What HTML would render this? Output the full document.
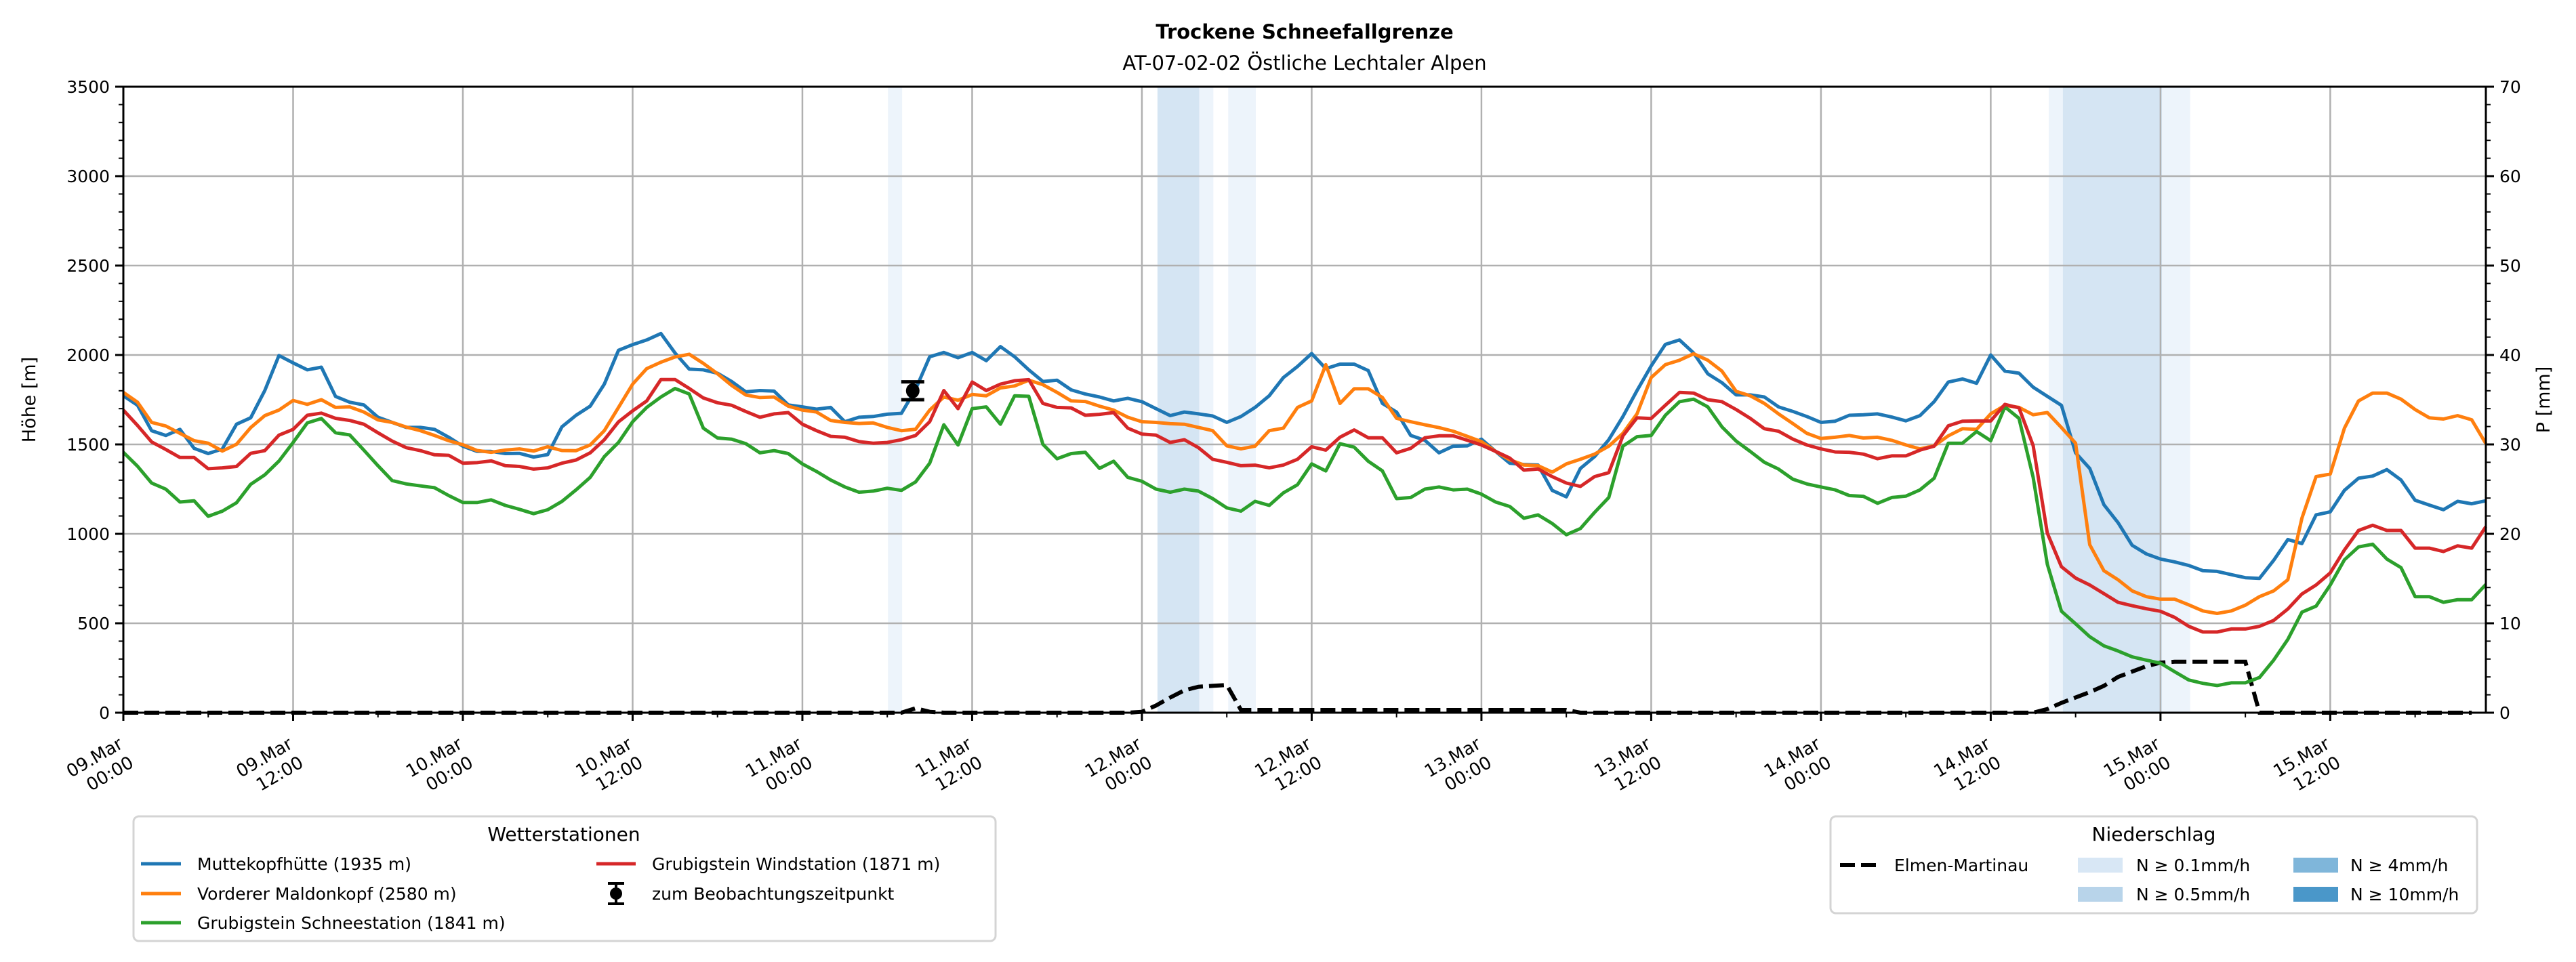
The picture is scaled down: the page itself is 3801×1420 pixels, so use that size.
<!DOCTYPE html>
<html><head><meta charset="utf-8"><style>
html,body{margin:0;padding:0;background:#fff}
svg{display:block;font-family:"DejaVu Sans","Liberation Sans",sans-serif}
</style></head><body>
<svg id="chart" width="3801" height="1420" viewBox="0 0 3801 1420" xmlns="http://www.w3.org/2000/svg">
<rect x="0" y="0" width="3801" height="1420" fill="#fff"/>
<text x="1925" y="57" text-anchor="middle" font-size="29" font-weight="bold">Trockene Schneefallgrenze</text>
<text x="1925" y="103" text-anchor="middle" font-size="29">AT-07-02-02 Östliche Lechtaler Alpen</text>
<g id="bands"></g>
<g id="grid"></g>
<g id="series"></g>
<g id="axes"></g>
<text transform="translate(52,590) rotate(-90)" text-anchor="middle" font-size="27">Höhe [m]</text>
<text transform="translate(3762,590) rotate(-90)" text-anchor="middle" font-size="27">P [mm]</text>

<g>
<rect x="197" y="1205" width="1272" height="184" rx="8" fill="#fff" stroke="#d4d4d4" stroke-width="3"/>
<text x="832" y="1241" text-anchor="middle" font-size="28">Wetterstationen</text>
<g><line x1="208" y1="1275" x2="267" y2="1275" stroke="#1f77b4" stroke-width="5"/><text x="291" y="1284" font-size="25">Muttekopfhütte (1935 m)</text></g>
<g><line x1="208" y1="1319" x2="267" y2="1319" stroke="#ff7f0e" stroke-width="5"/><text x="291" y="1328" font-size="25">Vorderer Maldonkopf (2580 m)</text></g>
<g><line x1="208" y1="1362" x2="267" y2="1362" stroke="#2ca02c" stroke-width="5"/><text x="291" y="1371" font-size="25">Grubigstein Schneestation (1841 m)</text></g>
<g><line x1="880" y1="1275" x2="938" y2="1275" stroke="#d62728" stroke-width="5"/><text x="962" y="1284" font-size="25">Grubigstein Windstation (1871 m)</text></g>
<g><line x1="909" y1="1304" x2="909" y2="1334" stroke="#000" stroke-width="4"/><line x1="897" y1="1304" x2="921" y2="1304" stroke="#000" stroke-width="4"/><line x1="897" y1="1334" x2="921" y2="1334" stroke="#000" stroke-width="4"/><circle cx="909" cy="1319" r="9" fill="#000"/><text x="962" y="1328" font-size="25">zum Beobachtungszeitpunkt</text></g>
</g>

<g>
<rect x="2701" y="1205" width="954" height="143" rx="8" fill="#fff" stroke="#d4d4d4" stroke-width="3"/>
<text x="3178" y="1241" text-anchor="middle" font-size="28">Niederschlag</text>
<g><line x1="2715" y1="1277" x2="2772" y2="1277" stroke="#000" stroke-width="6" stroke-dasharray="22 9"/><text x="2795" y="1286" font-size="25">Elmen-Martinau</text></g>
<g><rect x="3066" y="1266" width="66" height="22" fill="#d8e7f5"/><text x="3152" y="1286" font-size="25">N ≥ 0.1mm/h</text></g>
<g><rect x="3066" y="1309" width="66" height="22" fill="#b8d4ea"/><text x="3152" y="1329" font-size="25">N ≥ 0.5mm/h</text></g>
<g><rect x="3384" y="1266" width="66" height="22" fill="#7fb6da"/><text x="3468" y="1286" font-size="25">N ≥ 4mm/h</text></g>
<g><rect x="3384" y="1309" width="66" height="22" fill="#4a97c9"/><text x="3468" y="1329" font-size="25">N ≥ 10mm/h</text></g>
</g>
</svg>
<script>
const blue = [1772,1719,1577,1550,1584,1478,1449,1475,1613,1649,1801,1997,1956,1917,1932,1768,1736,1721,1652,1623,1595,1595,1584,1540,1490,1461,1461,1449,1450,1429,1443,1598,1663,1714,1837,2026,2058,2084,2120,2011,1921,1917,1898,
1852,1794,1801,1798,1721,1710,1697,1707,1627,1652,1656,1669,1674,1808,1990,2014,1985,2014,1968,2047,1990,1917,1852,1859,1805,1782,1765,1743,1758,1739,1700,1661,1681,1671,1659,1623,1656,1707,1772,1874,1936,2008,
1924,1949,1949,1913,1729,1681,1550,1523,1453,1490,1492,1529,1461,1395,1388,1385,1243,1207,1366,1432,1526,1656,1801,1939,2059,2084,2011,1895,1845,1777,1777,1765,1710,1685,1656,1623,1630,1663,1666,1671,1653,
1632,1661,1739,1849,1866,1842,2000,1910,1898,1820,1769,1718,1453,1366,1163,1062,936,888,859,843,823,794,790,772,755,751,852,968,946,1106,1123,1243,1311,1323,1359,1301,1188,1161,1135,1182,1168,1185];
const orange = [1791,1736,1623,1603,1562,1521,1507,1463,1501,1594,1661,1692,1746,1724,1750,1707,1710,1681,1637,1623,1597,1577,1550,1521,1498,1466,1456,1468,1475,1463,1487,1466,1465,1497,1577,1707,1837,1924,1960,1989,2004,1953,1895,
1830,1776,1762,1765,1714,1692,1681,1634,1623,1617,1620,1595,1577,1585,1692,1765,1747,1779,1772,1816,1827,1859,1834,1791,1743,1740,1714,1692,1652,1627,1623,1616,1613,1595,1577,1492,1475,1490,1577,1591,1707,1743,
1946,1729,1811,1811,1762,1646,1627,1610,1594,1574,1545,1516,1461,1414,1385,1381,1345,1391,1417,1446,1490,1562,1671,1874,1946,1971,2007,1971,1910,1797,1772,1729,1671,1617,1562,1533,1540,1550,1536,1540,1523,
1497,1475,1492,1548,1588,1584,1671,1718,1707,1666,1678,1594,1507,939,794,743,681,649,635,635,603,569,555,569,601,649,681,743,1088,1320,1334,1591,1743,1787,1787,1753,1695,1649,1642,1661,1638,1504];
const green = [1456,1378,1284,1250,1178,1185,1098,1127,1174,1277,1330,1407,1511,1620,1645,1565,1553,1468,1381,1298,1279,1268,1258,1214,1175,1175,1190,1159,1137,1113,1135,1181,1246,1316,1432,1511,1627,1707,1765,1813,1782,1591,1536,
1529,1504,1453,1465,1449,1391,1349,1301,1262,1233,1239,1255,1243,1290,1395,1610,1497,1700,1710,1613,1772,1769,1501,1420,1449,1456,1366,1406,1316,1294,1250,1233,1250,1239,1197,1145,1127,1182,1159,1229,1275,1391,
1352,1504,1485,1406,1352,1197,1203,1250,1262,1246,1250,1222,1178,1153,1087,1106,1058,995,1030,1120,1203,1490,1543,1550,1663,1739,1753,1710,1598,1519,1461,1400,1362,1306,1279,1262,1246,1214,1210,1171,1203,
1211,1246,1311,1507,1507,1572,1521,1710,1646,1316,830,567,497,425,374,345,312,294,277,229,183,164,152,167,167,197,294,410,562,596,714,855,927,942,859,811,649,649,617,632,632,717];
const red = [1692,1606,1514,1472,1427,1427,1364,1369,1377,1450,1465,1552,1584,1663,1675,1646,1634,1613,1565,1519,1482,1465,1442,1439,1395,1398,1408,1381,1377,1362,1369,1395,1413,1453,1526,1626,1688,1743,1863,1863,1813,1760,1733,
1719,1684,1652,1671,1678,1613,1577,1545,1540,1516,1507,1511,1526,1550,1627,1801,1700,1849,1801,1837,1856,1862,1729,1707,1704,1663,1668,1678,1591,1558,1552,1511,1526,1482,1417,1400,1381,1384,1369,1385,1417,1487,
1468,1540,1581,1537,1537,1453,1478,1537,1548,1548,1523,1497,1461,1424,1356,1363,1320,1284,1265,1320,1342,1548,1649,1645,1719,1791,1787,1750,1739,1695,1646,1588,1574,1530,1497,1475,1458,1456,1446,1420,1436,
1436,1468,1490,1604,1630,1631,1631,1724,1704,1494,1004,816,753,714,666,617,598,581,567,533,483,451,451,468,468,483,516,580,664,714,782,910,1019,1048,1019,1019,920,920,901,933,920,1040];
const precip = [0,0,0,0,0,0,0,0,0,0,0,0,0,0,0,0,0,0,0,0,0,0,0,0,0,0,0,0,0,0,0,0,0,0,0,0,0,0,0,0,0,0,0,0,0,0,0,0,0,0,0,0,0,0,0,0,
0.5,0.1,0,0,0,0,0,0,0,0,0,0,0,0,0,0,
0.1,0.8,1.7,2.5,2.9,3.0,3.1,
0.3,0.3,0.3,0.3,0.3,0.3,0.3,0.3,0.3,0.3,0.3,0.3,0.3,0.3,0.3,0.3,0.3,0.3,0.3,0.3,0.3,0.3,0.3,0.3,
0,0,0,0,0,0,0,0,0,0,0,0,0,0,0,0,0,0,0,0,0,0,0,0,0,0,0,0,0,0,0,0,0,
0.4,1.1,1.7,2.3,3.0,4.0,4.6,5.2,5.6,5.7,5.7,5.7,5.7,5.7,5.7,
0,0,0,0,0,0,0,0,0,0,0,0,0,0,0,0];
const bandStart = [54.05, 73.1, 76.05, 78.1, 136.1, 137.1, 144.1];
const bandEnd = [55.05, 76.05, 77.05, 80.05, 137.1, 144.1, 146.1];
const bandLevel = [1, 2, 1, 1, 1, 2, 1];
const obsHour = [55.8];
const obsValue = [1800];
const obsErr = [50];
const xTickHours = [0,12,24,36,48,60,72,84,96,108,120,132,144,156];
const xTickDay = ["09.Mar","09.Mar","10.Mar","10.Mar","11.Mar","11.Mar","12.Mar","12.Mar","13.Mar","13.Mar","14.Mar","14.Mar","15.Mar","15.Mar"];
const xTickTime = ["00:00","12:00","00:00","12:00","00:00","12:00","00:00","12:00","00:00","12:00","00:00","12:00","00:00","12:00"];
const yTicks = [0,500,1000,1500,2000,2500,3000,3500];
const y2Ticks = [0,10,20,30,40,50,60,70];

const NS = "http://www.w3.org/2000/svg";
const L = 182, R = 3668, T = 128, B = 1052;
const X_MAX = 167, Y_MAX = 3500, Y2_MAX = 70;
function x(h){ return L + h * (R - L) / X_MAX; }
function y(v){ return B - v / Y_MAX * (B - T); }
function y2(v){ return B - v / Y2_MAX * (B - T); }
function mk(tag, attrs, parent){
  const e = document.createElementNS(NS, tag);
  for (const k in attrs) e.setAttribute(k, attrs[k]);
  parent.appendChild(e);
  return e;
}
const gBands = document.getElementById('bands');
const gGrid = document.getElementById('grid');
const gSeries = document.getElementById('series');
const gAxes = document.getElementById('axes');
const bandColors = {1:'#edf4fb', 2:'#d5e5f3'};

for (let i = 0; i < bandStart.length; i++) {
  const r = mk('rect', {x: x(bandStart[i]), y: T, width: x(bandEnd[i]) - x(bandStart[i]), height: B - T, fill: bandColors[bandLevel[i]]}, gBands);
  
  
}
for (const t of yTicks) {
  const l = mk('line', {x1: L, x2: R, y1: y(t), y2: y(t), stroke: '#b0b0b0', 'stroke-width': 2.5}, gGrid);
  
  
}
for (const h of xTickHours) {
  const l = mk('line', {x1: x(h), x2: x(h), y1: T, y2: B, stroke: '#b0b0b0', 'stroke-width': 2.5}, gGrid);
  
  
}
function path(arr, fn){
  return arr.map((v, i) => (i ? 'L' : 'M') + x(i).toFixed(1) + ' ' + fn(v).toFixed(1)).join(' ');
}
const seriesDefs = [[blue,'#1f77b4','line-muttekopf'],[orange,'#ff7f0e','line-maldonkopf'],[green,'#2ca02c','line-schneestation'],[red,'#d62728','line-windstation']];
const pp = mk('path', {d: path(precip, y2), fill: 'none', stroke: '#000', 'stroke-width': 6, 'stroke-dasharray': '22 9'}, gSeries);


for (const s of seriesDefs) {
  const p = mk('path', {d: path(s[0], y), fill: 'none', stroke: s[1], 'stroke-width': 5, 'stroke-linejoin': 'round'}, gSeries);
  
  
}
for (let i = 0; i < obsHour.length; i++) {
  const g = mk('g', {}, gSeries);
  
  
  const cx = x(obsHour[i]);
  mk('line', {x1: cx, x2: cx, y1: y(obsValue[i] - obsErr[i]), y2: y(obsValue[i] + obsErr[i]), stroke: '#000', 'stroke-width': 5}, g);
  mk('line', {x1: cx - 17, x2: cx + 17, y1: y(obsValue[i] - obsErr[i]), y2: y(obsValue[i] - obsErr[i]), stroke: '#000', 'stroke-width': 5}, g);
  mk('line', {x1: cx - 17, x2: cx + 17, y1: y(obsValue[i] + obsErr[i]), y2: y(obsValue[i] + obsErr[i]), stroke: '#000', 'stroke-width': 5}, g);
  mk('ellipse', {cx: cx, cy: y(obsValue[i]), rx: 10, ry: 11, fill: '#000'}, g);
}
const fr = mk('rect', {x: L, y: T, width: R - L, height: B - T, fill: 'none', stroke: '#000', 'stroke-width': 3}, gAxes);


for (let v = 0; v <= Y_MAX; v += 100) {
  const major = v % 500 === 0;
  mk('line', {x1: L, x2: L - (major ? 12 : 7), y1: y(v), y2: y(v), stroke: '#000', 'stroke-width': major ? 3 : 2}, gAxes);
}
for (const t of yTicks) {
  const tx = mk('text', {x: L - 20, y: y(t) + 9, 'text-anchor': 'end', 'font-size': 25}, gAxes);
  tx.textContent = t;
  
  
}
for (let v = 0; v <= Y2_MAX; v += 2) {
  const major = v % 10 === 0;
  mk('line', {x1: R, x2: R + (major ? 12 : 7), y1: y2(v), y2: y2(v), stroke: '#000', 'stroke-width': major ? 3 : 2}, gAxes);
}
for (const t of y2Ticks) {
  const tx = mk('text', {x: R + 20, y: y2(t) + 9, 'text-anchor': 'start', 'font-size': 25}, gAxes);
  tx.textContent = t;
  
  
}
for (let h = 0; h <= X_MAX; h += 6) {
  const major = h % 12 === 0;
  mk('line', {x1: x(h), x2: x(h), y1: B, y2: B + (major ? 12 : 7), stroke: '#000', 'stroke-width': major ? 3 : 2}, gAxes);
}
for (let i = 0; i < xTickHours.length; i++) {
  const g = mk('g', {transform: 'translate(' + (x(xTickHours[i]) - 10).toFixed(1) + ',' + (B + 32) + ') rotate(-30)'}, gAxes);
  
  
  const t1 = mk('text', {x: 0, y: 22, 'text-anchor': 'end', 'font-size': 26}, g);
  t1.textContent = xTickDay[i];
  const t2 = mk('text', {x: 0, y: 54, 'text-anchor': 'end', 'font-size': 26}, g);
  t2.textContent = xTickTime[i];
}
</script>
</body></html>
